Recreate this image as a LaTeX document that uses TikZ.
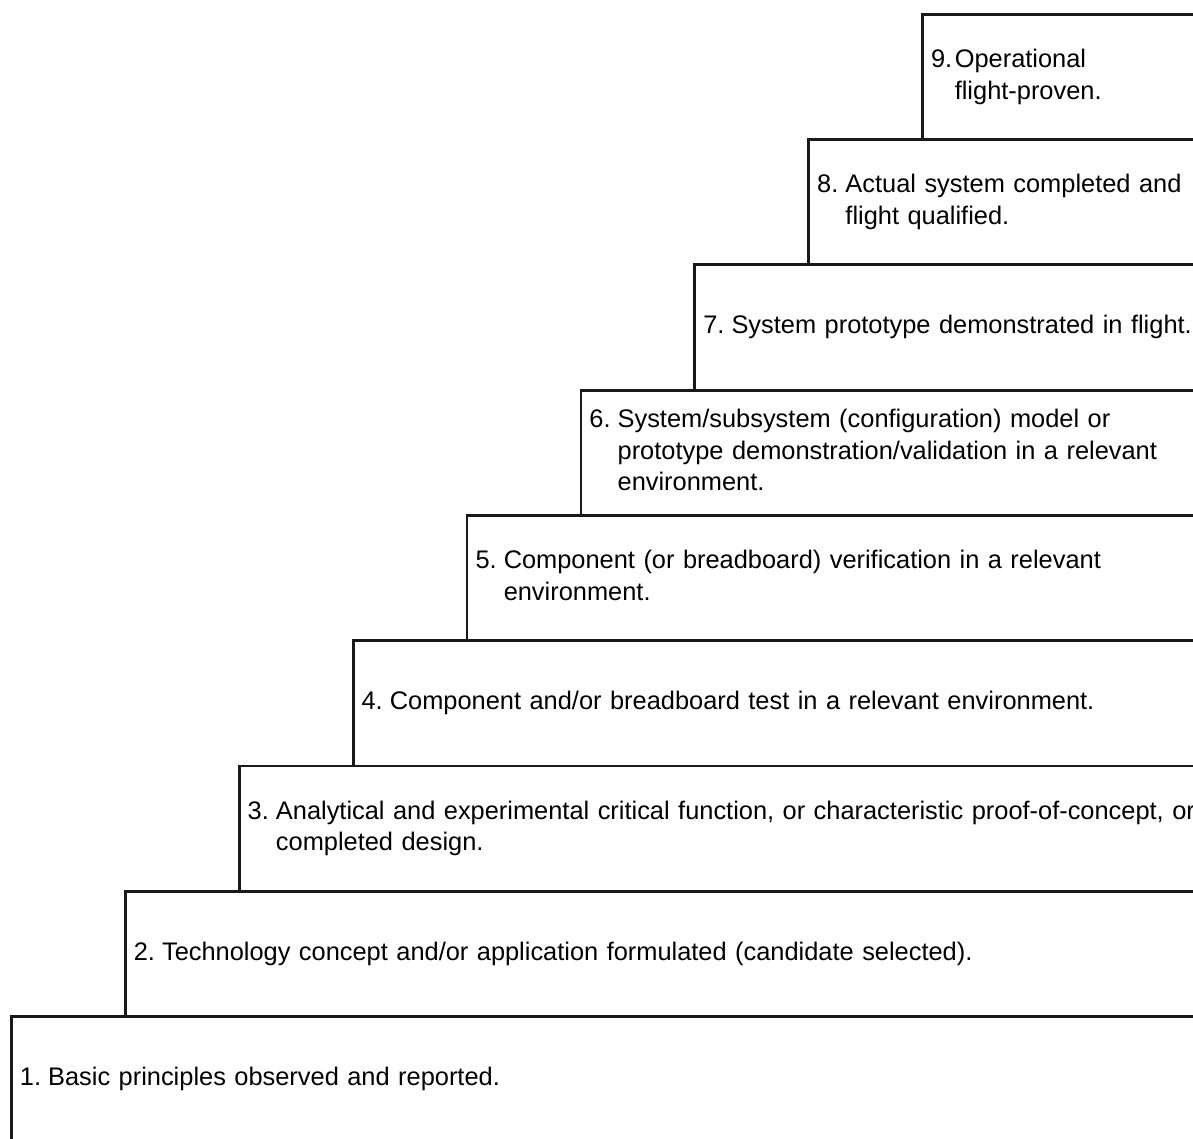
\documentclass[tikz,border=0pt]{standalone}
\usepackage{fontspec}
\setmainfont{Liberation Sans}

% one step of the staircase: a framed box reaching past the right edge
\tikzset{
  stepbox/.style={draw=black!90, line width=2.8pt, rectangle, anchor=north west,
    minimum height=125.25pt, inner xsep=8.5pt, inner ysep=0pt, align=left,
    font=\fontsize{25.4}{31.5}\selectfont},
}
% number in its own column, text lines aligned after it
\newcommand{\lvl}[3][0.278em]{\begin{tabular}{@{}l@{\hspace{#1}}l@{}}#2 & #3\end{tabular}}

\begin{document}
\begin{tikzpicture}[x=1pt, y=-1pt]
\useasboundingbox (0,0) rectangle (1193,1139);

\foreach \i/\txt in {
  1/{\lvl{1.}{Basic principles observed and reported.}},
  2/{\lvl{2.}{Technology concept and/or application formulated (candidate selected).}},
  3/{\lvl{3.}{Analytical and experimental critical function, or characteristic proof-of-concept, or\\ & completed design.}},
  4/{\lvl{4.}{Component and/or breadboard test in a relevant environment.}},
  5/{\lvl{5.}{Component (or breadboard) verification in a relevant\\ & environment.}},
  6/{\lvl{6.}{System/subsystem (configuration) model or\\ & prototype demonstration/validation in a relevant\\ & environment.}},
  7/{\lvl{7.}{System prototype demonstrated in flight.}},
  8/{\lvl{8.}{Actual system completed and\\ & flight qualified.}},
  9/{\lvl[2.5pt]{9.}{Operational\\ & flight-proven.}}
}{
  \pgfmathsetmacro{\xl}{10+(\i-1)*113.9}
  \pgfmathsetmacro{\yt}{1015-(\i-1)*125.25}
  \pgfmathsetmacro{\boxw}{1210-\xl}
  \pgfmathsetmacro{\textw}{\boxw-17}
  \node[stepbox, minimum width=\boxw pt, text width=\textw pt] (s\i) at (\xl,\yt) {\txt};
}
\end{tikzpicture}
\end{document}
